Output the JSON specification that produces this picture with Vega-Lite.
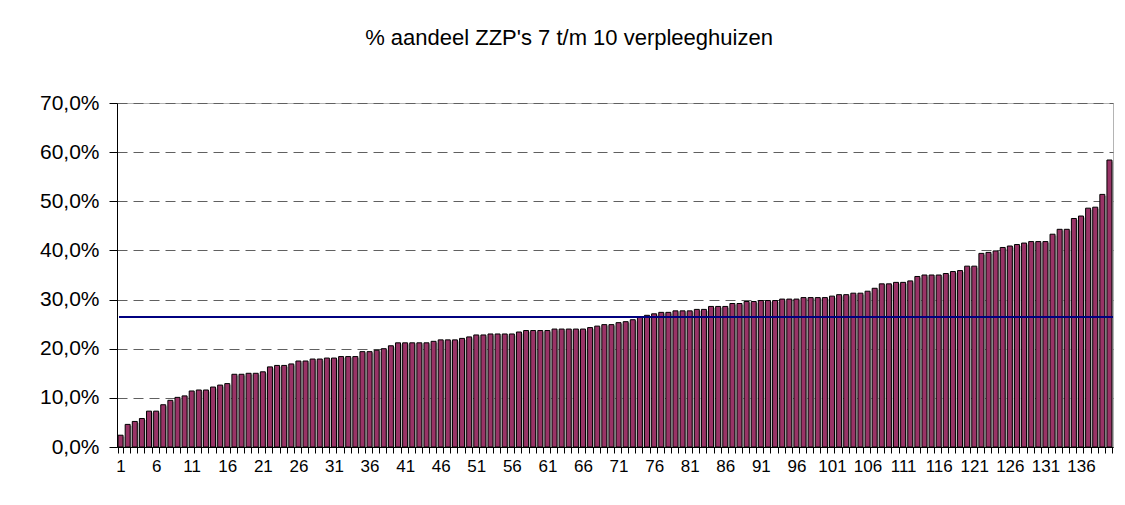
{
  "$schema": "https://vega.github.io/schema/vega-lite/v6.json",
  "autosize": {"type": "none"},
  "padding": {"left": 117, "top": 103, "right": 12, "bottom": 58},
  "width": 996,
  "height": 344,
  "background": "white",
  "title": {
    "text": "% aandeel ZZP's 7 t/m 10 verpleeghuizen",
    "font": "Liberation Sans",
    "fontSize": 22,
    "fontWeight": "normal",
    "color": "black",
    "anchor": "middle",
    "dx": -46,
    "offset": 42
  },
  "data": {
    "values": [
      {"nr": 1, "pct": 2.4}, {"nr": 2, "pct": 4.6}, {"nr": 3, "pct": 5.2}, {"nr": 4, "pct": 5.8}, {"nr": 5, "pct": 7.3},
      {"nr": 6, "pct": 7.3}, {"nr": 7, "pct": 8.6}, {"nr": 8, "pct": 9.5}, {"nr": 9, "pct": 10.1}, {"nr": 10, "pct": 10.4},
      {"nr": 11, "pct": 11.4}, {"nr": 12, "pct": 11.6}, {"nr": 13, "pct": 11.6}, {"nr": 14, "pct": 12.2}, {"nr": 15, "pct": 12.6},
      {"nr": 16, "pct": 12.9}, {"nr": 17, "pct": 14.8}, {"nr": 18, "pct": 14.8}, {"nr": 19, "pct": 15.0}, {"nr": 20, "pct": 15.0},
      {"nr": 21, "pct": 15.3}, {"nr": 22, "pct": 16.3}, {"nr": 23, "pct": 16.6}, {"nr": 24, "pct": 16.6}, {"nr": 25, "pct": 16.9},
      {"nr": 26, "pct": 17.5}, {"nr": 27, "pct": 17.5}, {"nr": 28, "pct": 17.9}, {"nr": 29, "pct": 17.9}, {"nr": 30, "pct": 18.1},
      {"nr": 31, "pct": 18.1}, {"nr": 32, "pct": 18.4}, {"nr": 33, "pct": 18.4}, {"nr": 34, "pct": 18.4}, {"nr": 35, "pct": 19.4},
      {"nr": 36, "pct": 19.4}, {"nr": 37, "pct": 19.7}, {"nr": 38, "pct": 20.0}, {"nr": 39, "pct": 20.6}, {"nr": 40, "pct": 21.2},
      {"nr": 41, "pct": 21.2}, {"nr": 42, "pct": 21.2}, {"nr": 43, "pct": 21.2}, {"nr": 44, "pct": 21.2}, {"nr": 45, "pct": 21.5},
      {"nr": 46, "pct": 21.8}, {"nr": 47, "pct": 21.8}, {"nr": 48, "pct": 21.8}, {"nr": 49, "pct": 22.1}, {"nr": 50, "pct": 22.4},
      {"nr": 51, "pct": 22.8}, {"nr": 52, "pct": 22.8}, {"nr": 53, "pct": 23.0}, {"nr": 54, "pct": 23.0}, {"nr": 55, "pct": 23.0},
      {"nr": 56, "pct": 23.0}, {"nr": 57, "pct": 23.4}, {"nr": 58, "pct": 23.7}, {"nr": 59, "pct": 23.7}, {"nr": 60, "pct": 23.7},
      {"nr": 61, "pct": 23.7}, {"nr": 62, "pct": 24.0}, {"nr": 63, "pct": 24.0}, {"nr": 64, "pct": 24.0}, {"nr": 65, "pct": 24.0},
      {"nr": 66, "pct": 24.0}, {"nr": 67, "pct": 24.3}, {"nr": 68, "pct": 24.6}, {"nr": 69, "pct": 24.9}, {"nr": 70, "pct": 24.9},
      {"nr": 71, "pct": 25.3}, {"nr": 72, "pct": 25.5}, {"nr": 73, "pct": 25.9}, {"nr": 74, "pct": 26.5}, {"nr": 75, "pct": 26.8},
      {"nr": 76, "pct": 27.1}, {"nr": 77, "pct": 27.4}, {"nr": 78, "pct": 27.4}, {"nr": 79, "pct": 27.7}, {"nr": 80, "pct": 27.7},
      {"nr": 81, "pct": 27.7}, {"nr": 82, "pct": 28.0}, {"nr": 83, "pct": 28.0}, {"nr": 84, "pct": 28.6}, {"nr": 85, "pct": 28.6},
      {"nr": 86, "pct": 28.6}, {"nr": 87, "pct": 29.2}, {"nr": 88, "pct": 29.2}, {"nr": 89, "pct": 29.6}, {"nr": 90, "pct": 29.6},
      {"nr": 91, "pct": 29.8}, {"nr": 92, "pct": 29.8}, {"nr": 93, "pct": 29.8}, {"nr": 94, "pct": 30.1}, {"nr": 95, "pct": 30.1},
      {"nr": 96, "pct": 30.1}, {"nr": 97, "pct": 30.4}, {"nr": 98, "pct": 30.4}, {"nr": 99, "pct": 30.4}, {"nr": 100, "pct": 30.4},
      {"nr": 101, "pct": 30.7}, {"nr": 102, "pct": 31.0}, {"nr": 103, "pct": 31.0}, {"nr": 104, "pct": 31.3}, {"nr": 105, "pct": 31.3},
      {"nr": 106, "pct": 31.7}, {"nr": 107, "pct": 32.3}, {"nr": 108, "pct": 33.2}, {"nr": 109, "pct": 33.2}, {"nr": 110, "pct": 33.5},
      {"nr": 111, "pct": 33.5}, {"nr": 112, "pct": 33.8}, {"nr": 113, "pct": 34.7}, {"nr": 114, "pct": 35.0}, {"nr": 115, "pct": 35.0},
      {"nr": 116, "pct": 35.0}, {"nr": 117, "pct": 35.3}, {"nr": 118, "pct": 35.7}, {"nr": 119, "pct": 35.9}, {"nr": 120, "pct": 36.8},
      {"nr": 121, "pct": 36.8}, {"nr": 122, "pct": 39.4}, {"nr": 123, "pct": 39.6}, {"nr": 124, "pct": 39.9}, {"nr": 125, "pct": 40.6},
      {"nr": 126, "pct": 40.9}, {"nr": 127, "pct": 41.2}, {"nr": 128, "pct": 41.5}, {"nr": 129, "pct": 41.8}, {"nr": 130, "pct": 41.8},
      {"nr": 131, "pct": 41.8}, {"nr": 132, "pct": 43.3}, {"nr": 133, "pct": 44.3}, {"nr": 134, "pct": 44.3}, {"nr": 135, "pct": 46.5},
      {"nr": 136, "pct": 47.0}, {"nr": 137, "pct": 48.6}, {"nr": 138, "pct": 48.8}, {"nr": 139, "pct": 51.4}, {"nr": 140, "pct": 58.4}
    ]
  },
  "encoding": {
    "x": {
      "field": "nr",
      "type": "ordinal",
      "sort": "ascending",
      "scale": {"paddingInner": 0.3, "paddingOuter": 0.15},
      "axis": {
        "title": null,
        "labelAngle": 0,
        "labelOverlap": false,
        "labelExpr": "(datum.value - 1) % 5 === 0 ? datum.value : ''",
        "labelFont": "Liberation Sans",
        "labelFontSize": 17,
        "labelColor": "black",
        "labelPadding": 5,
        "tickBand": "extent",
        "tickSize": 6,
        "tickColor": "black",
        "domainColor": "black",
        "grid": false
      }
    },
    "y": {
      "field": "pct",
      "type": "quantitative",
      "scale": {"domain": [0, 70], "nice": false},
      "axis": {
        "title": null,
        "values": [0, 10, 20, 30, 40, 50, 60, 70],
        "labelExpr": "replace(format(datum.value, '.1f'), '.', ',') + '%'",
        "labelFont": "Liberation Sans",
        "labelFontSize": 21,
        "labelColor": "black",
        "labelPadding": 10,
        "tickSize": 8,
        "tickColor": "black",
        "domainColor": "black",
        "grid": true,
        "gridColor": "#606060",
        "gridDash": [10, 6],
        "gridWidth": 1
      }
    }
  },
  "layer": [
    {
      "mark": {"type": "bar", "color": "#b8b8b8", "xOffset": 1.5, "yOffset": 1.5, "clip": true}
    },
    {
      "mark": {"type": "bar", "fill": "#993366", "stroke": "black", "strokeWidth": 1}
    },
    {
      "mark": {"type": "rule", "color": "#000080", "strokeWidth": 1.5},
      "encoding": {"x": {"value": 2}, "x2": {"value": 996}, "y": {"datum": 26.4}}
    }
  ],
  "config": {
    "view": {"stroke": "#b4b4b4"},
    "axis": {"domainWidth": 1}
  }
}
